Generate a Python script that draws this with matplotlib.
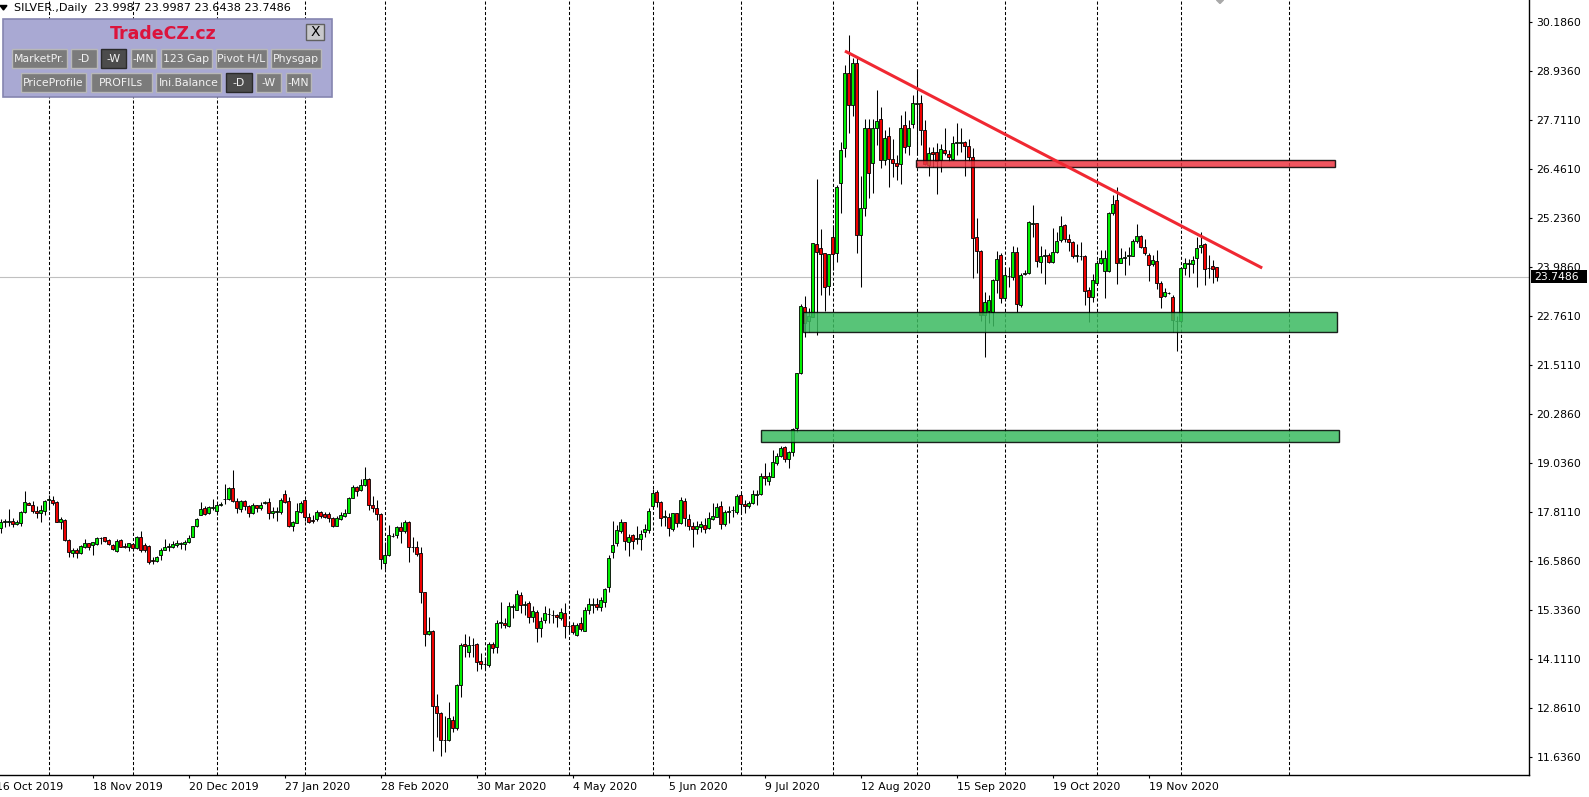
import numpy as np
import matplotlib
matplotlib.use("Agg")
import matplotlib.pyplot as plt
from matplotlib.patches import Rectangle, Polygon

# Daily SILVER bars, oldest first (Oct 2019 .. Dec 2020).
opens = [
    17.40, 17.57, 17.55, 17.58, 17.52, 17.54, 17.80, 18.05, 18.00, 17.84,
    17.79, 17.84, 18.11, 18.11, 18.06, 17.57, 17.61, 17.10, 16.78, 16.84,
    16.77, 16.94, 17.02, 16.99, 17.01, 17.15, 17.17, 17.10, 16.98, 16.83,
    17.10, 16.95, 16.94, 17.00, 16.89, 17.17, 16.97, 16.95, 16.59, 16.58,
    16.73, 16.86, 16.92, 16.94, 16.98, 17.01, 17.00, 17.06, 17.19, 17.45,
    17.74, 17.90, 17.78, 17.92, 17.84, 18.00, 18.14, 18.13, 18.42, 18.09,
    17.88, 18.10, 17.96, 17.78, 17.99, 17.92, 18.05, 18.06,
    17.78, 17.82, 17.80, 18.27, 18.09, 17.47, 17.54, 17.82, 18.11, 17.68,
    17.61, 17.63, 17.80, 17.75, 17.75, 17.65, 17.47, 17.64, 17.72, 17.79,
    18.17, 18.44, 18.37, 18.48, 18.64, 17.99, 17.90, 17.76, 16.53, 16.72,
    17.20, 17.23, 17.42, 17.32, 17.56, 16.94, 16.94, 16.77, 15.78, 14.72,
    14.81, 12.92, 12.73, 12.06, 12.05, 12.56, 12.37, 13.44, 14.47, 14.29,
    14.45, 14.47,
    14.05, 13.98, 13.95, 14.48, 14.40, 15.01, 15.01, 14.94, 15.42, 15.35,
    15.71, 15.46, 15.51, 15.15, 15.28, 14.88, 15.09, 15.23, 15.22, 15.21,
    15.13, 15.25, 14.94, 14.96, 14.70, 15.00, 14.82, 15.35, 15.46, 15.49,
    15.41, 15.55, 15.91, 16.79, 17.02, 17.34, 17.55, 17.06, 17.22, 17.13,
    17.12, 17.30, 17.35, 17.95, 18.31, 18.07, 17.69, 17.69, 17.37, 17.78,
    17.53, 18.08, 17.63, 17.47, 17.37, 17.42, 17.48, 17.40,
    17.63, 17.69, 17.95, 17.50, 17.80, 17.85, 17.80, 18.23, 18.01, 17.95,
    18.03, 18.25, 18.26, 18.72, 18.60, 18.70, 19.04, 19.23, 19.44, 19.14,
    19.33, 19.92, 21.31, 22.99, 22.62, 22.74, 24.57, 24.47, 24.34, 23.52,
    24.74, 24.34, 26.11, 26.99, 28.88, 28.08, 29.14, 24.79, 25.48, 27.50,
    26.61, 27.50, 27.72, 26.70, 27.29, 26.72, 26.61,
    26.59, 27.58, 27.05, 27.60, 28.12, 28.13, 27.45, 26.57, 26.91, 26.89,
    26.70, 26.95, 26.85, 26.71, 27.12, 27.13, 27.14, 27.04, 26.78, 24.74,
    24.40, 22.78, 22.89, 22.87, 23.67, 24.31, 23.22, 23.77, 23.73, 24.37,
    23.04, 23.82, 23.84, 25.09, 25.10, 24.13, 24.27, 24.31, 24.13, 24.38,
    24.68, 25.05, 24.71, 24.63, 24.27, 24.28, 24.27, 23.41, 23.25, 23.58,
    24.09, 23.89, 23.89, 25.35, 25.68, 24.10, 24.23, 24.26, 24.27, 24.66,
    24.78, 24.49, 24.31, 24.06, 24.15, 23.60, 23.27, 23.34, 23.25, 22.64,
    22.62, 23.98, 24.08, 24.06, 24.21, 24.49, 24.58, 23.98, 24.02, 23.9987,
]
highs = [
    17.63, 17.63, 17.89, 17.65, 17.61, 17.84, 18.34, 18.07, 18.09, 17.95,
    17.99, 18.11, 18.24, 18.22, 18.09, 17.68, 17.64, 17.13, 16.89, 16.89,
    16.99, 17.12, 17.04, 17.06, 17.19, 17.19, 17.19, 17.13, 17.00, 17.12,
    17.12, 17.02, 17.04, 17.04, 17.21, 17.33, 17.02, 16.97, 16.68, 16.70,
    16.89, 17.13, 17.04, 17.08, 17.10, 17.06, 17.10, 17.23, 17.46, 17.66,
    18.06, 17.95, 17.97, 18.15, 18.06, 18.07, 18.51, 18.45, 18.86, 18.16,
    18.11, 18.11, 17.98, 18.03, 18.00, 18.07, 18.09, 18.16,
    17.93, 17.93, 18.16, 18.37, 18.20, 17.59, 18.05, 18.09, 18.13, 17.78,
    17.74, 17.86, 17.84, 17.82, 17.80, 17.69, 17.71, 17.81, 17.88, 18.20,
    18.48, 18.47, 18.64, 18.94, 18.66, 18.21, 18.11, 17.78, 17.06, 17.48,
    17.29, 17.46, 17.57, 17.61, 17.59, 17.19, 17.09, 16.92, 15.80, 15.15,
    14.83, 13.23, 12.76, 12.65, 13.02, 12.65, 13.46, 14.51, 14.73, 14.67,
    14.62, 14.50,
    14.24, 14.16, 14.54, 14.54, 15.09, 15.54, 15.13, 15.54, 15.48, 15.84,
    15.80, 15.57, 15.57, 15.44, 15.34, 15.17, 15.44, 15.38, 15.34, 15.24,
    15.38, 15.51, 15.04, 15.04, 15.00, 15.17, 15.42, 15.63, 15.63, 15.65,
    15.67, 15.90, 16.73, 17.58, 17.48, 17.64, 17.57, 17.26, 17.25, 17.46,
    17.36, 17.51, 17.90, 18.38, 18.37, 18.09, 17.86, 17.79, 17.79, 17.79,
    18.18, 18.16, 17.75, 17.57, 17.59, 17.58, 17.67, 17.80,
    18.03, 18.05, 18.09, 17.86, 17.95, 17.95, 18.27, 18.28, 18.12, 18.10,
    18.37, 18.37, 18.79, 19.04, 18.83, 19.38, 19.29, 19.48, 19.48, 19.36,
    19.94, 21.33, 23.06, 23.26, 22.95, 24.61, 26.22, 24.95, 24.36, 24.32,
    25.06, 26.07, 27.16, 29.09, 29.85, 29.26, 29.26, 26.29, 27.72, 27.72,
    27.72, 28.46, 28.03, 27.45, 27.54, 27.22, 26.82,
    27.83, 27.93, 27.71, 28.34, 28.98, 28.34, 27.71, 27.02, 27.02, 27.12,
    27.10, 27.50, 26.95, 27.30, 27.62, 27.51, 27.18, 27.22, 26.99, 25.22,
    24.42, 23.37, 23.29, 23.68, 24.41, 24.34, 23.96, 24.00, 24.53, 24.51,
    23.84, 23.92, 25.16, 25.56, 25.11, 24.53, 24.44, 24.34, 24.97, 24.89,
    25.28, 25.07, 24.84, 24.65, 24.58, 24.63, 24.30, 23.50, 23.81, 24.17,
    24.42, 24.42, 25.39, 25.81, 26.02, 24.47, 24.41, 24.51, 24.69, 25.08,
    24.80, 24.70, 24.34, 24.30, 24.42, 23.63, 23.46, 23.37, 23.29, 22.76,
    24.00, 24.21, 24.19, 24.26, 24.76, 24.89, 24.61, 24.30, 24.17, 23.9987,
]
lows = [
    17.29, 17.42, 17.46, 17.42, 17.48, 17.47, 17.79, 17.99, 17.78, 17.65,
    17.57, 17.74, 17.86, 17.99, 17.56, 17.37, 17.09, 16.68, 16.67, 16.64,
    16.75, 16.89, 16.85, 16.73, 16.97, 17.00, 17.06, 16.98, 16.85, 16.81,
    16.92, 16.90, 16.83, 16.86, 16.87, 16.81, 16.81, 16.51, 16.51, 16.56,
    16.60, 16.84, 16.83, 16.89, 16.92, 16.87, 16.85, 17.04, 17.17, 17.42,
    17.73, 17.74, 17.76, 17.86, 17.73, 17.97, 18.01, 18.11, 18.07, 17.79,
    17.82, 17.86, 17.68, 17.76, 17.82, 17.86, 18.01, 17.63,
    17.65, 17.59, 17.76, 18.03, 17.42, 17.34, 17.53, 17.78, 17.59, 17.53,
    17.53, 17.59, 17.65, 17.65, 17.57, 17.44, 17.46, 17.61, 17.69, 17.78,
    18.16, 18.21, 18.34, 18.47, 17.85, 17.82, 17.61, 16.37, 16.37, 16.70,
    17.17, 17.15, 17.04, 17.29, 16.56, 16.79, 16.70, 15.51, 14.44, 14.71,
    11.79, 12.12, 11.64, 11.76, 12.03, 12.27, 12.31, 13.15, 14.16, 14.16,
    14.16, 13.81,
    13.85, 13.82, 13.89, 14.26, 14.24, 14.88, 14.88, 14.92, 15.13, 15.34,
    15.27, 15.20, 15.02, 15.04, 14.54, 14.66, 15.00, 15.00, 15.02, 14.90,
    15.09, 14.64, 14.75, 14.72, 14.68, 14.82, 14.82, 15.23, 15.27, 15.34,
    15.30, 15.42, 15.78, 16.66, 16.95, 17.27, 16.85, 16.70, 16.88, 17.00,
    16.84, 17.17, 17.27, 17.88, 17.93, 17.46, 17.46, 17.21, 17.32, 17.44,
    17.50, 17.46, 17.36, 16.94, 17.26, 17.30, 17.27, 17.37,
    17.61, 17.68, 17.37, 17.47, 17.53, 17.68, 17.76, 17.78, 17.78, 17.92,
    18.01, 17.99, 18.25, 18.49, 18.49, 18.69, 19.00, 19.21, 19.08, 18.91,
    19.23, 19.84, 21.29, 22.24, 22.36, 22.73, 22.28, 23.29, 22.89, 23.29,
    23.92, 24.11, 25.37, 26.78, 27.37, 27.81, 24.36, 23.48, 25.27, 25.73,
    25.86, 27.08, 26.49, 26.57, 26.02, 26.26, 26.19,
    26.08, 26.86, 26.82, 27.50, 26.82, 27.07, 26.57, 26.30, 26.53, 25.85,
    26.40, 26.82, 26.68, 26.70, 26.82, 26.91, 26.28, 26.68, 23.71, 23.84,
    22.62, 21.72, 22.57, 22.51, 23.33, 23.08, 23.20, 23.48, 23.67, 22.87,
    22.99, 23.79, 23.82, 24.76, 24.00, 23.84, 23.56, 24.10, 24.10, 24.34,
    24.63, 24.63, 24.41, 24.21, 24.13, 24.17, 23.04, 22.60, 23.12, 23.54,
    24.07, 23.22, 23.88, 25.31, 23.56, 24.09, 23.79, 24.05, 24.26, 24.59,
    24.47, 24.30, 23.64, 24.03, 23.43, 22.95, 23.25, 23.31, 22.36, 21.88,
    22.59, 23.79, 23.73, 23.84, 23.50, 24.34, 23.54, 23.71, 23.58, 23.6438,
]
closes = [
    17.56, 17.58, 17.59, 17.52, 17.56, 17.81, 18.06, 18.00, 17.83, 17.78,
    17.86, 18.09, 18.13, 18.05, 17.57, 17.63, 17.10, 16.79, 16.84, 16.77,
    16.95, 17.03, 16.94, 17.05, 17.15, 17.16, 17.09, 17.00, 16.88, 17.09,
    16.94, 16.94, 17.02, 16.89, 17.17, 16.85, 16.84, 16.56, 16.57, 16.67,
    16.84, 16.93, 16.95, 17.01, 17.02, 17.02, 17.05, 17.16, 17.45, 17.63,
    17.88, 17.76, 17.93, 17.93, 18.00, 18.01, 18.15, 18.42, 18.10, 17.90,
    18.08, 17.95, 17.79, 17.99, 17.92, 18.00, 18.06, 17.78,
    17.84, 17.83, 18.11, 18.07, 17.46, 17.55, 17.84, 18.04, 17.68, 17.57,
    17.59, 17.80, 17.71, 17.69, 17.65, 17.47, 17.65, 17.73, 17.78, 18.16,
    18.44, 18.35, 18.49, 18.64, 18.00, 17.90, 17.76, 16.62, 16.72, 17.22,
    17.21, 17.42, 17.32, 17.56, 16.92, 16.92, 16.74, 15.78, 14.72, 14.80,
    12.92, 12.73, 12.05, 12.05, 12.60, 12.37, 13.44, 14.45, 14.44, 14.45,
    14.46, 14.03,
    13.97, 13.97, 14.47, 14.37, 15.00, 15.03, 14.95, 15.44, 15.44, 15.74,
    15.46, 15.48, 15.17, 15.30, 14.88, 15.07, 15.25, 15.24, 15.21, 15.15,
    15.28, 14.94, 14.93, 14.77, 14.96, 14.85, 15.33, 15.48, 15.48, 15.42,
    15.59, 15.87, 16.64, 16.97, 17.36, 17.55, 17.09, 17.17, 17.09, 17.15,
    17.25, 17.37, 17.83, 18.28, 18.06, 17.65, 17.70, 17.40, 17.78, 17.53,
    18.11, 17.65, 17.47, 17.37, 17.46, 17.50, 17.37, 17.67,
    17.71, 17.93, 17.50, 17.80, 17.84, 17.87, 18.22, 18.01, 17.95, 18.05,
    18.26, 18.27, 18.72, 18.66, 18.72, 19.07, 19.23, 19.42, 19.14, 19.32,
    19.90, 21.31, 23.01, 22.57, 22.76, 24.59, 24.38, 24.32, 23.50, 24.32,
    24.32, 26.02, 26.95, 28.88, 28.08, 29.14, 24.79, 25.48, 27.50, 26.38,
    27.50, 27.68, 26.70, 27.26, 26.71, 26.61, 26.54,
    27.50, 27.02, 27.50, 28.13, 28.13, 27.45, 26.59, 26.88, 26.84, 26.68,
    26.97, 26.86, 26.76, 27.12, 27.14, 27.15, 27.05, 26.78, 24.72, 24.40,
    22.78, 23.12, 23.16, 23.67, 24.19, 23.22, 23.79, 23.78, 24.37, 23.05,
    23.79, 23.84, 25.14, 25.11, 24.15, 24.27, 24.29, 24.13, 24.38, 24.65,
    25.04, 24.69, 24.63, 24.26, 24.29, 24.27, 23.40, 23.25, 23.67, 24.09,
    24.21, 24.21, 25.37, 25.59, 24.10, 24.21, 24.25, 24.30, 24.65, 24.78,
    24.49, 24.34, 24.05, 24.17, 23.58, 23.25, 23.36, 23.35, 22.66, 22.63,
    23.98, 24.09, 24.10, 24.17, 24.47, 24.55, 23.94, 23.97, 23.95, 23.7486,
]

# Time axis labels (bar index where each label starts) and month grid lines.
label_pos = [-1, 23, 47, 71, 95, 119, 143, 167, 191, 215, 239, 263, 287]
label_text = ["16 Oct 2019", "18 Nov 2019", "20 Dec 2019", "27 Jan 2020",
              "28 Feb 2020", "30 Mar 2020", "4 May 2020", "5 Jun 2020",
              "9 Jul 2020", "12 Aug 2020", "15 Sep 2020", "19 Oct 2020",
              "19 Nov 2020"]
grid_pos = [12, 33, 54, 76, 96, 121, 142, 163, 185, 208, 229, 251, 274, 295, 322]

price_ticks = [30.1860, 28.9360, 27.7110, 26.4610, 25.2360, 23.9860, 22.7610,
               21.5110, 20.2860, 19.0360, 17.8110, 16.5860, 15.3360, 14.1110,
               12.8610, 11.6360]
last_price = 23.7486

# Drawn objects: resistance trend line and supply / demand zones.
trend_x = [211.1, 315.4]
trend_y = [29.446, 23.97]
red_zone = (228.95, 333.5, 26.511, 26.688)
green_zones = [(200.7, 334.05, 22.346, 22.851), (190.1, 334.6, 19.570, 19.880)]

W, H = 1589, 797
fig = plt.figure(figsize=(W / 100, H / 100), dpi=100)
fig.patch.set_facecolor("white")
ax = fig.add_axes([0, 22 / H, 1529 / W, 1 - 22 / H])

o = np.array(opens)
h = np.array(highs)
l = np.array(lows)
c = np.array(closes)
x = np.arange(len(c))

# Month grid lines behind everything.
for g in grid_pos:
    ax.axvline(g, color="black", lw=0.75, ls=(0, (3, 2)), zorder=0)

ax.axhline(last_price, color="#c0c0c0", lw=0.8, zorder=1)

# Candles.
ax.vlines(x, l, h, color="black", lw=0.75, zorder=2)
lo = np.minimum(o, c)
hgt = np.maximum(np.abs(c - o), 0.004)
up = c > o
dn = ~up
ax.bar(x[up], hgt[up], bottom=lo[up], width=0.6, color="#00f000",
       edgecolor="black", lw=0.6, zorder=3)
ax.bar(x[dn], hgt[dn], bottom=lo[dn], width=0.6, color="#f00000",
       edgecolor="black", lw=0.6, zorder=3)

# Zones.
x0, x1, p0, p1 = red_zone
ax.add_patch(Rectangle((x0, p0), x1 - x0, p1 - p0, facecolor="#ee3743",
                       alpha=0.85, edgecolor="black", lw=1, zorder=4))
for x0, x1, p0, p1 in green_zones:
    ax.add_patch(Rectangle((x0, p0), x1 - x0, p1 - p0, facecolor="#3bba60",
                           alpha=0.85, edgecolor="black", lw=1, zorder=4))
ax.plot(trend_x, trend_y, color="#f02832", lw=2.2, zorder=5,
        solid_capstyle="butt")

ax.set_xlim(-0.125, 382.1)
ax.set_ylim(11.173, 30.734)

for s in ("left", "top"):
    ax.spines[s].set_visible(False)
ax.spines["right"].set_linewidth(1)
ax.spines["bottom"].set_linewidth(1)

ax.yaxis.tick_right()
ax.set_yticks(price_ticks)
ax.set_yticklabels([f"{v:.4f}" for v in price_ticks])
ax.tick_params(axis="y", direction="out", length=2.5, width=0.8, pad=3,
               labelsize=7.8)
ax.set_xticks([p for p in label_pos if p >= 0])
ax.set_xticklabels([])
ax.tick_params(axis="x", direction="out", length=2.5, width=0.8)
trans = ax.get_xaxis_transform()
for p, t in zip(label_pos, label_text):
    ax.text(p, -0.0152, t, transform=trans, ha="left", va="center",
            fontsize=7.8, clip_on=False)

# Terminal chrome drawn in pixel coordinates on top.
ov = fig.add_axes([0, 0, 1, 1], zorder=10)
ov.set_xlim(0, W)
ov.set_ylim(H, 0)
ov.axis("off")
ov.patch.set_alpha(0)

ov.add_patch(Polygon([(0, 5.5), (7, 5.5), (3.5, 10)], closed=True,
                     color="black"))
ov.text(14, 7.5, "SILVER.,Daily  23.9987 23.9987 23.6438 23.7486",
        fontsize=8.1, va="center", ha="left")
# small object marker at the top edge
ov.add_patch(Polygon([(1216.5, 0), (1223.5, 0), (1220, 3.5)], closed=True,
                     color="#a8a8a8"))

# price marker box on the axis
ov.add_patch(Rectangle((1531, 270), 56, 13, facecolor="black", edgecolor="none"))
ov.text(1534, 276.8, f"{last_price:.4f}", color="white", fontsize=7.8,
        va="center", ha="left")

# TradeCZ panel
ov.add_patch(Rectangle((2.7, 19.3), 329, 77.4, facecolor="#a9a9d3",
                       edgecolor="#8585b0", lw=1.2))
ov.text(163, 33.8, "TradeCZ.cz", color="#dc143c", fontsize=12.5,
        fontweight="bold", ha="center", va="center")
ov.add_patch(Rectangle((306, 24), 18, 16, facecolor="#c8c8cc",
                       edgecolor="#606060", lw=1))
ov.text(315, 32.3, "X", fontsize=10, ha="center", va="center")

buttons = [
    (11.7, 49, 66.7, 68, "MarketPr.", False),
    (71, 49, 96.7, 68, "-D", False),
    (101, 49, 126, 68, "-W", True),
    (131, 49, 155.7, 68, "-MN", False),
    (161, 49, 211.7, 68, "123 Gap", False),
    (216, 49, 266.7, 68, "Pivot H/L", False),
    (270.7, 49, 321, 68, "Physgap", False),
    (20.7, 72.7, 86, 92.3, "PriceProfile", False),
    (91, 72.7, 151.7, 92.3, "PROFILs", False),
    (155.7, 72.7, 221, 92.3, "Ini.Balance", False),
    (226, 72.7, 251.7, 92.3, "-D", True),
    (256, 72.7, 281, 92.3, "-W", False),
    (286, 72.7, 311, 92.3, "-MN", False),
]
for bx0, by0, bx1, by1, name, pressed in buttons:
    fc = "#4c4c4c" if pressed else "#7b7b7b"
    ec = "#2a2a2a" if pressed else "#b8b8b8"
    ov.add_patch(Rectangle((bx0, by0), bx1 - bx0, by1 - by0, facecolor=fc,
                           edgecolor=ec, lw=1))
    tx = ov.text((bx0 + bx1) / 2, (by0 + by1) / 2 + 0.5, name, color="#f2f2f2",
                 fontsize=7.8, ha="center", va="center")
    tx.set_clip_path(Rectangle((bx0, by0), bx1 - bx0, by1 - by0,
                               transform=ov.transData))

fig.savefig("out.png", dpi=100)
